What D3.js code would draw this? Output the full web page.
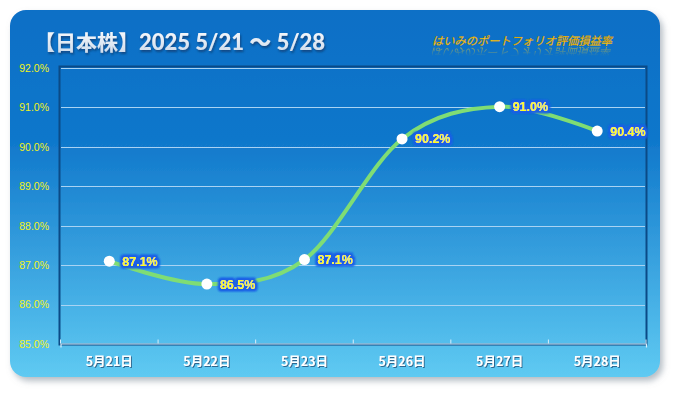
<!DOCTYPE html>
<html><head><meta charset="utf-8">
<script src="https://cdn.jsdelivr.net/npm/d3@7"></script>
<style>html,body{margin:0;padding:0;background:#fff;}svg{display:block;}</style>
</head><body>
<svg id="chart" width="675" height="393"></svg>
<script>
const categories = ["5月21日","5月22日","5月23日","5月26日","5月27日","5月28日"];
const values = [87.1, 86.52, 87.14, 90.2, 91.02, 90.4];
const yTicks = [85,86,87,88,89,90,91,92];
const titleMain = "【日本株】";
const titleSub = "2025 5/21 〜 5/28";
const subtitle = "はいみのポートフォリオ評価損益率";

const svg = d3.select("#chart");
const defs = svg.append("defs");

const bg = defs.append("linearGradient").attr("id","bg").attr("x1",0).attr("y1",0).attr("x2",0).attr("y2",1);
bg.append("stop").attr("offset","0%").attr("stop-color","#0b6fc6");
bg.append("stop").attr("offset","35%").attr("stop-color","#0f77cb");
bg.append("stop").attr("offset","100%").attr("stop-color","#5fcaf2");

const sh = defs.append("filter").attr("id","cardShadow").attr("x","-5%").attr("y","-5%").attr("width","112%").attr("height","115%");
sh.append("feDropShadow").attr("dx",3).attr("dy",4).attr("stdDeviation",3).attr("flood-color","#7a8794").attr("flood-opacity",0.55);

const glow = defs.append("filter").attr("id","glow").attr("x","-20%").attr("y","-50%").attr("width","140%").attr("height","200%");
glow.append("feMorphology").attr("in","SourceAlpha").attr("operator","dilate").attr("radius",1.8).attr("result","d");
glow.append("feGaussianBlur").attr("in","d").attr("stdDeviation",1.1).attr("result","b");
glow.append("feFlood").attr("flood-color","#1d5fe6");
glow.append("feComposite").attr("in2","b").attr("operator","in").attr("result","g");
const gm = glow.append("feMerge");
gm.append("feMergeNode").attr("in","g");
gm.append("feMergeNode").attr("in","g");
gm.append("feMergeNode").attr("in","SourceGraphic");

const tsh = defs.append("filter").attr("id","tshadow").attr("x","-10%").attr("y","-30%").attr("width","120%").attr("height","170%");
tsh.append("feDropShadow").attr("dx",1).attr("dy",2).attr("stdDeviation",1.2).attr("flood-color","#0a3a70").attr("flood-opacity",0.8);

const xsh = defs.append("filter").attr("id","xshadow").attr("x","-10%").attr("y","-30%").attr("width","120%").attr("height","170%");
xsh.append("feDropShadow").attr("dx",1).attr("dy",1).attr("stdDeviation",0.4).attr("flood-color","#2a5f86").attr("flood-opacity",0.9);

const tg = defs.append("linearGradient").attr("id","titleGrad").attr("x1",0).attr("y1",0).attr("x2",0).attr("y2",1);
tg.append("stop").attr("offset","0%").attr("stop-color","#ffffff");
tg.append("stop").attr("offset","100%").attr("stop-color","#c9d8ea");

const rg = defs.append("linearGradient").attr("id","reflGrad").attr("x1",0).attr("y1",0).attr("x2",0).attr("y2",1);
rg.append("stop").attr("offset","0%").attr("stop-color","#fff").attr("stop-opacity",0.55);
rg.append("stop").attr("offset","100%").attr("stop-color","#fff").attr("stop-opacity",0);
const mask = defs.append("mask").attr("id","reflMask").attr("maskUnits","userSpaceOnUse");
mask.append("rect").attr("x",420).attr("y",47).attr("width",220).attr("height",9).attr("fill","url(#reflGrad)");

// card
svg.append("rect").attr("x",10).attr("y",10).attr("width",650).attr("height",367)
  .attr("rx",16).attr("ry",16).attr("fill","url(#bg)").attr("filter","url(#cardShadow)");

// title
const title = svg.append("text").attr("x",34).attr("y",50)
  .attr("font-family","'Noto Sans CJK JP', sans-serif").attr("font-weight","bold")
  .attr("font-size",21).attr("fill","url(#titleGrad)").attr("filter","url(#tshadow)");
title.append("tspan").text(titleMain);
title.append("tspan").attr("font-family","Lato, 'Noto Sans CJK JP', sans-serif").attr("font-weight",900).attr("font-size",22).text(titleSub);

// subtitle + reflection
svg.append("text")
  .attr("transform","translate(432,45) skewX(-14)")
  .attr("font-family","'Noto Sans CJK JP', sans-serif").attr("font-size",11.4)
  .attr("fill","#ffd21a").attr("stroke","#c88a00").attr("stroke-width",0.3)
  .attr("textLength",180).attr("lengthAdjust","spacingAndGlyphs").text(subtitle);
svg.append("g").attr("mask","url(#reflMask)").append("text")
  .attr("transform","translate(432,48) scale(1,-1) skewX(14)")
  .attr("font-family","'Noto Sans CJK JP', sans-serif").attr("font-size",11.4)
  .attr("fill","#ffd21a")
  .attr("textLength",180).attr("lengthAdjust","spacingAndGlyphs").text(subtitle);

// scales
const x = d3.scaleBand().domain(categories).range([60.5,646]).padding(0);
const y = d3.scaleLinear().domain([85,92]).range([344,68]);

// plot border
svg.append("rect").attr("x",59.5).attr("y",66.5).attr("width",587).attr("height",278)
  .attr("fill","none").attr("stroke","#0b4a86").attr("stroke-width",2);

// gridlines
svg.append("g").selectAll("line").data(yTicks.filter(d=>d>85)).join("line")
  .attr("x1",61).attr("x2",645).attr("y1",d=>Math.round(y(d))+0.5).attr("y2",d=>Math.round(y(d))+0.5)
  .attr("stroke","#a9d3f3").attr("stroke-width",1);

// y axis labels
svg.append("g").selectAll("text").data(yTicks).join("text")
  .attr("x",49).attr("y",d=>y(d)+3.8).attr("text-anchor","end")
  .attr("font-family","'Liberation Sans', Arial, sans-serif").attr("font-size",10.5)
  .attr("fill","#f2f21a").text(d=>d.toFixed(1)+"%");

// x axis
const xAxis = d3.axisBottom(x).tickSize(4).tickSizeOuter(4).tickFormat("");
const xg = svg.append("g").attr("transform","translate(0,343.5)").call(xAxis);
xg.select(".domain").attr("stroke","#d8eefc").attr("stroke-width",1.2);
xg.selectAll(".tick line").attr("stroke","#d8eefc").attr("transform",`translate(${-x.bandwidth()/2},-4)`);
xg.append("line").attr("x1",646).attr("x2",646).attr("y1",-4).attr("y2",0).attr("stroke","#d8eefc");

svg.append("g").selectAll("text").data(categories).join("text")
  .attr("x",d=>x(d)+x.bandwidth()/2).attr("y",365.5).attr("text-anchor","middle")
  .attr("font-family","'Noto Sans CJK JP', sans-serif").attr("font-weight","bold")
  .attr("font-size",12.5).attr("fill","#ffffff").attr("filter","url(#xshadow)").text(d=>d);

// line
const line = d3.line().x((d,i)=>x(categories[i])+x.bandwidth()/2).y(d=>y(d)).curve(d3.curveCatmullRom.alpha(0));
svg.append("path").datum(values).attr("d",line).attr("fill","none")
  .attr("stroke","#7fdd74").attr("stroke-width",4).attr("stroke-linecap","round");

// markers
svg.append("g").selectAll("circle").data(values).join("circle")
  .attr("cx",(d,i)=>x(categories[i])+x.bandwidth()/2).attr("cy",d=>y(d)).attr("r",5.5)
  .attr("fill","#ffffff");

// data labels
svg.append("g").selectAll("text").data(values).join("text")
  .attr("x",(d,i)=>x(categories[i])+x.bandwidth()/2+13).attr("y",d=>y(d)+4.5)
  .attr("font-family","'Liberation Sans', Arial, sans-serif").attr("font-weight","bold")
  .attr("font-size",12.5).attr("fill","#ffff1e").attr("filter","url(#glow)")
  .text(d=>d.toFixed(1)+"%");
</script>
</body></html>
